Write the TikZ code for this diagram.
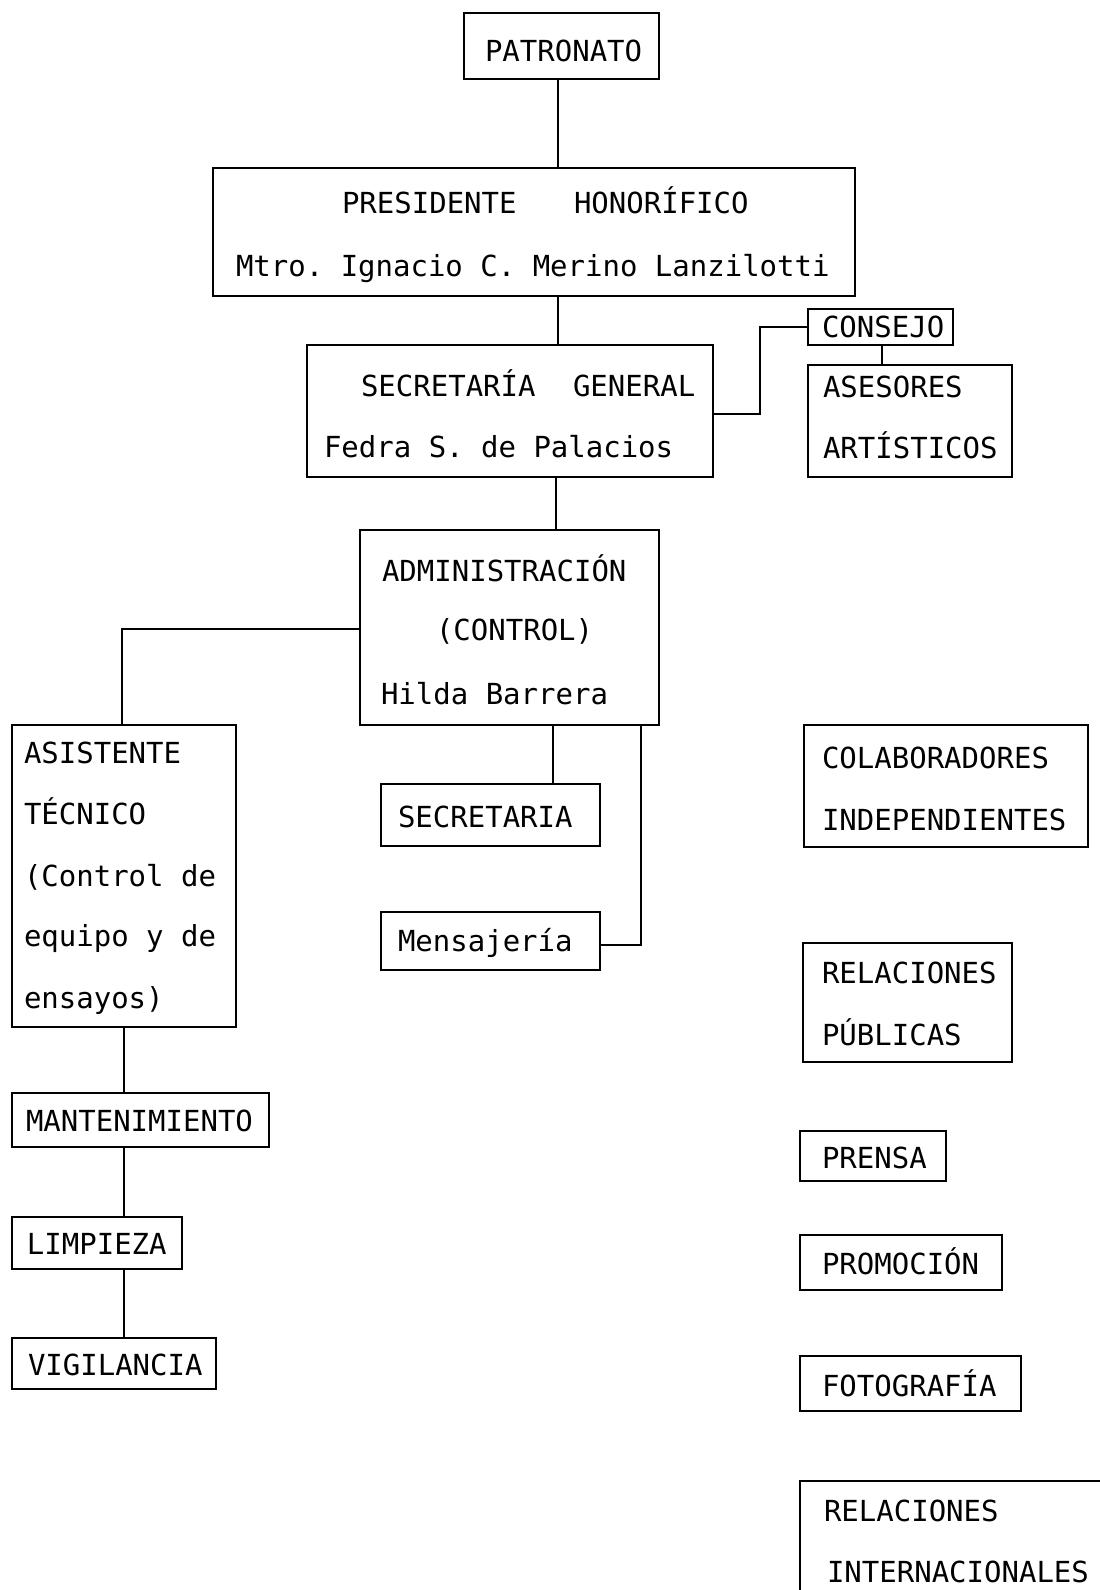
\documentclass[tikz,border=0pt]{standalone}
\usepackage{fontspec}
\newfontfamily\tw{DejaVu Sans Mono}
\tikzset{
  box/.style={draw, line width=2.4pt, inner sep=0pt, outer sep=0pt, anchor=north west},
  conn/.style={line width=2.4pt},
  txt/.style={inner sep=0pt, outer sep=0pt, anchor=base west, font=\tw\fontsize{29}{35}\selectfont\frenchspacing}
}
\begin{document}
\begin{tikzpicture}[x=1pt,y=-1pt]
\useasboundingbox (0,0) rectangle (1100,1590);
\fill[white] (0,0) rectangle (1100,1590);
\begin{scope}
\clip (0,0) rectangle (1100,1590);
% boxes
\node[box, minimum width=195pt, minimum height=66pt] (pat) at (464,13) {};
\node[box, minimum width=642pt, minimum height=128pt] (pres) at (213,168) {};
\node[box, minimum width=406pt, minimum height=132pt] (sg) at (307,345) {};
\node[box, minimum width=145pt, minimum height=36pt] (cons) at (808,309) {};
\node[box, minimum width=204pt, minimum height=112pt] (ases) at (808,365) {};
\node[box, minimum width=299pt, minimum height=195pt] (adm) at (360,530) {};
\node[box, minimum width=224pt, minimum height=302pt] (asis) at (12,725) {};
\node[box, minimum width=219pt, minimum height=62pt] (secr) at (381,784) {};
\node[box, minimum width=219pt, minimum height=58pt] (mens) at (381,912) {};
\node[box, minimum width=257pt, minimum height=54pt] (mant) at (12,1093) {};
\node[box, minimum width=170pt, minimum height=52pt] (limp) at (12,1217) {};
\node[box, minimum width=204pt, minimum height=51pt] (vig) at (12,1338) {};
\node[box, minimum width=284pt, minimum height=122pt] (cola) at (804,725) {};
\node[box, minimum width=209pt, minimum height=119pt] (relp) at (803,943) {};
\node[box, minimum width=146pt, minimum height=50pt] (prensa) at (800,1131) {};
\node[box, minimum width=202pt, minimum height=55pt] (promo) at (800,1235) {};
\node[box, minimum width=221pt, minimum height=55pt] (foto) at (800,1356) {};
\node[box, minimum width=330pt, minimum height=140pt] (reli) at (800,1481) {};
% texts
\node[txt] (t1) at (485,61) {PATRONATO};
\node[txt] (t2) at (342,213) {PRESIDENTE};
\node[txt] (t3) at (574,213) {HONORÍFICO};
\node[txt] (t4) at (236,276) {Mtro. Ignacio C. Merino Lanzilotti};
\node[txt] (t5) at (361,396) {SECRETARÍA};
\node[txt] (t6) at (573,396) {GENERAL};
\node[txt] (t7) at (324,457) {Fedra S. de Palacios};
\node[txt] (t8) at (822,337) {CONSEJO};
\node[txt] (t9) at (823,397) {ASESORES};
\node[txt] (t10) at (823,458) {ARTÍSTICOS};
\node[txt] (t11) at (382,581) {ADMINISTRACIÓN};
\node[txt] (t12) at (436,640) {(CONTROL)};
\node[txt] (t13) at (381,704) {Hilda Barrera};
\node[txt] (t14) at (24,763) {ASISTENTE};
\node[txt] (t15) at (24,824) {TÉCNICO};
\node[txt] (t16) at (24,886) {(Control de};
\node[txt] (t17) at (24,946) {equipo y de};
\node[txt] (t18) at (24,1008) {ensayos)};
\node[txt] (t19) at (398,827) {SECRETARIA};
\node[txt] (t20) at (398,951) {Mensajería};
\node[txt] (t21) at (26,1131) {MANTENIMIENTO};
\node[txt] (t22) at (27,1254) {LIMPIEZA};
\node[txt] (t23) at (28,1375) {VIGILANCIA};
\node[txt] (t24) at (822,768) {COLABORADORES};
\node[txt] (t25) at (822,830) {INDEPENDIENTES};
\node[txt] (t26) at (822,983) {RELACIONES};
\node[txt] (t27) at (822,1045) {PÚBLICAS};
\node[txt] (t28) at (822,1168) {PRENSA};
\node[txt] (t29) at (822,1274) {PROMOCIÓN};
\node[txt] (t30) at (822,1396) {FOTOGRAFÍA};
\node[txt] (t31) at (824,1521) {RELACIONES};
\node[txt] (t32) at (827,1582) {INTERNACIONALES};
% connectors
\coordinate (vx1) at (558,0);
\draw[conn] (pat.south -| vx1) -- (pres.north -| vx1);
\draw[conn] (pres.south -| vx1) -- (sg.north -| vx1);
\coordinate (sgc) at (760,414);
\draw[conn] (sg.east |- sgc) -- (sgc) |- (cons.west);
\coordinate (vx2) at (882,0);
\draw[conn] (cons.south -| vx2) -- (ases.north -| vx2);
\coordinate (vx3) at (556,0);
\draw[conn] (sg.south -| vx3) -- (adm.north -| vx3);
\coordinate (ac) at (122,629);
\draw[conn] (adm.west |- ac) -- (ac) -- (asis.north -| ac);
\coordinate (vx4) at (553,0);
\draw[conn] (adm.south -| vx4) -- (secr.north -| vx4);
\coordinate (mc) at (641,945);
\draw[conn] (adm.south -| mc) -- (mc) -- (mens.east |- mc);
\coordinate (vx5) at (124,0);
\draw[conn] (asis.south -| vx5) -- (mant.north -| vx5);
\draw[conn] (mant.south -| vx5) -- (limp.north -| vx5);
\draw[conn] (limp.south -| vx5) -- (vig.north -| vx5);
\end{scope}
\end{tikzpicture}
\end{document}
